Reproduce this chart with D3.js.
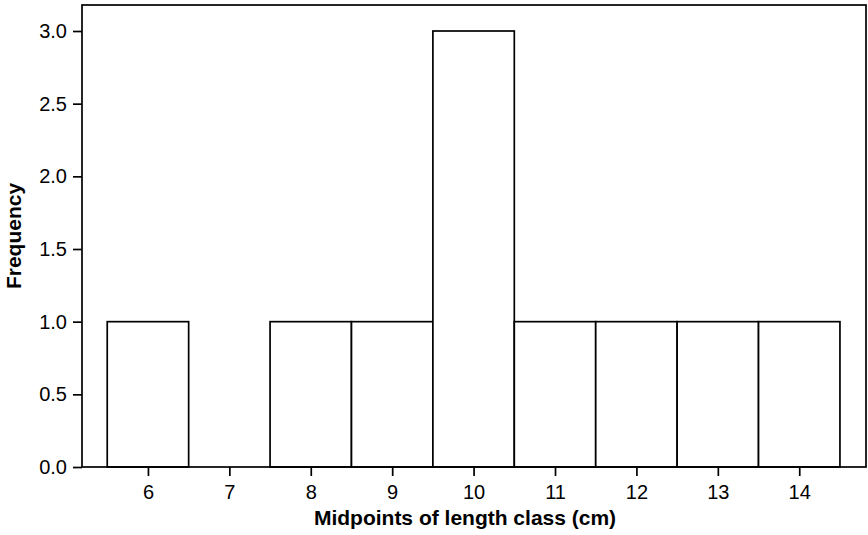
<!DOCTYPE html>
<html>
<head>
<meta charset="utf-8">
<script src="https://cdn.jsdelivr.net/npm/d3@7"></script>
<style>
  body { margin: 0; background: #fff; }
  svg { font-family: "Liberation Sans", Arial, Helvetica, sans-serif; }
</style>
</head>
<body>
<svg id="chart" width="868" height="535"></svg>
<script>
// midpoints of length class (cm) and their counts
var midpoints = [6, 7, 8, 9, 10, 11, 12, 13, 14];
var counts = [1, 0, 1, 1, 3, 1, 1, 1, 1];
var yTicks = [0, 0.5, 1, 1.5, 2, 2.5, 3];
var xLabel = "Midpoints of length class (cm)";
var yLabel = "Frequency";

(function(){
    var svg = d3.select("#chart");
    var pLeft = 82, pRight = 866, pTop = 5, pBottom = 467;

    var x = d3.scaleLinear().domain([5.19, 14.82]).range([pLeft, pRight]);
    var y = d3.scaleLinear().domain([0, 3]).range([pBottom, 31]);

    var bins = midpoints.map(function(m, i){ return {m: m, n: counts[i]}; })
        .filter(function(d){ return d.n > 0; });

    svg.selectAll("rect.bar")
        .data(bins)
        .enter()
        .append("rect")
        .attr("class", "bar")
        .attr("x", function(d){ return x(d.m - 0.5); })
        .attr("width", function(d){ return x(d.m + 0.5) - x(d.m - 0.5); })
        .attr("y", function(d){ return y(d.n); })
        .attr("height", function(d){ return y(0) - y(d.n); })
        .attr("fill", "#fff")
        .attr("stroke", "#000")
        .attr("stroke-width", 1.7);

    // frame round the plot
    svg.append("rect")
        .attr("x", pLeft).attr("y", pTop)
        .attr("width", pRight - pLeft).attr("height", pBottom - pTop)
        .attr("fill", "none")
        .attr("stroke", "#000")
        .attr("stroke-width", 1.7);

    var yAxis = svg.append("g")
        .attr("transform", "translate(" + pLeft + ",0)")
        .call(d3.axisLeft(y).tickValues(yTicks).tickSize(9).tickPadding(6)
            .tickFormat(d3.format(".1f")));

    var xAxis = svg.append("g")
        .attr("transform", "translate(0," + pBottom + ")")
        .call(d3.axisBottom(x).tickValues(midpoints).tickSize(9).tickPadding(9)
            .tickFormat(d3.format("d")));

    [xAxis, yAxis].forEach(function(g){
        g.select(".domain").remove();
        g.selectAll(".tick line").attr("stroke", "#000").attr("stroke-width", 1.7);
        g.selectAll(".tick text")
            .attr("fill", "#000")
            .style("font-size", "20px")
            .style("font-family", "'Liberation Sans', Arial, sans-serif");
    });

    svg.append("text")
        .attr("x", (pLeft + pRight) / 2 - 9)
        .attr("y", 525)
        .attr("text-anchor", "middle")
        .style("font-size", "21px")
        .style("font-weight", "bold")
        .text(xLabel);

    svg.append("text")
        .attr("transform", "translate(21," + ((pTop + pBottom) / 2) + ") rotate(-90)")
        .attr("text-anchor", "middle")
        .style("font-size", "21px")
        .style("font-weight", "bold")
        .text(yLabel);
})();
</script>
</body>
</html>
